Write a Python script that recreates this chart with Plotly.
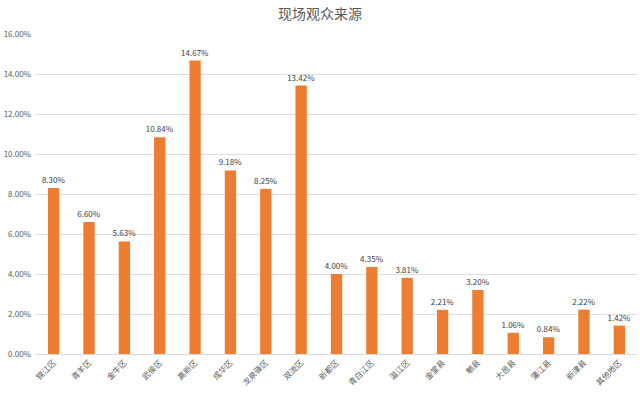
import plotly.graph_objects as go

categories = ["锦江区", "青羊区", "金牛区", "武侯区", "高新区", "成华区", "龙泉驿区", "双流区", "新都区",
              "青白江区", "温江区", "金堂县", "郫县", "大邑县", "蒲江县", "新津县", "其他地区"]
values = [8.30, 6.60, 5.63, 10.84, 14.67, 9.18, 8.25, 13.42, 4.00, 4.35, 3.81, 2.21, 3.20, 1.06, 0.84, 2.22, 1.42]
tick_vals = [0, 2, 4, 6, 8, 10, 12, 14, 16]
tick_text = ["%.2f%%" % v for v in tick_vals]

fig = go.Figure(go.Bar(
    x=categories, y=values,
    marker=dict(color="#ED7D31", line=dict(width=0)),
    text=["%.2f%%" % v for v in values],
    textposition="outside",
    constraintext="none",
    textfont=dict(size=8, color="#404040"),
    cliponaxis=False,
))
fig.update_layout(
    width=640, height=398,
    margin=dict(l=36, r=3, t=34, b=44, autoexpand=False),
    paper_bgcolor="white", plot_bgcolor="white",
    font=dict(family="Noto Sans CJK SC, sans-serif", color="#595959"),
    title=dict(text="现场观众来源", x=0.5, xanchor="center", y=0.965, yanchor="middle",
               font=dict(size=14, color="#595959")),
    bargap=0.68,
    showlegend=False,
)
fig.update_yaxes(range=[0, 16], tickvals=tick_vals, ticktext=tick_text, automargin=False,
                 showgrid=True, gridcolor="#DDDDDD", gridwidth=1, zeroline=False,
                 ticklabelstandoff=4,
                 tickfont=dict(size=8, color="#595959"), ticks="", showline=False)
fig.update_xaxes(tickangle=-45, tickfont=dict(size=8, color="#595959"), automargin=False,
                 showline=True, linecolor="#D9D9D9", linewidth=1, ticks="")
fig.write_html("out.html", post_script="document.body.style.margin='0';",
               config={"displayModeBar": False})
